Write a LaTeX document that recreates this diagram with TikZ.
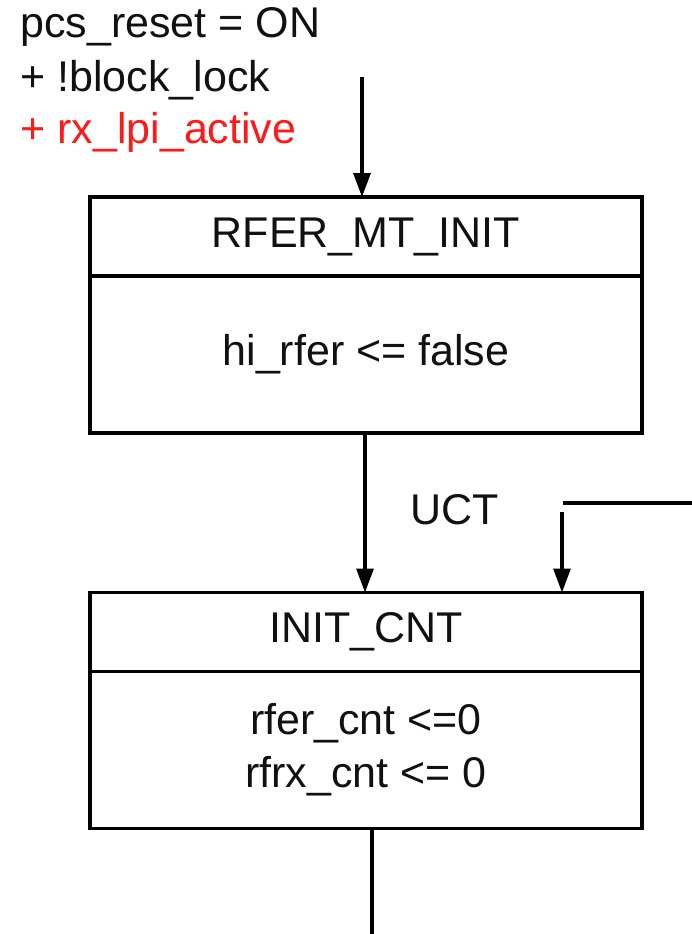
\documentclass[tikz,border=0pt]{standalone}
\usepackage{fontspec}
\setmainfont{Liberation Sans}
\usepackage{tikz}
\usepackage{xcolor}
\usetikzlibrary{arrows.meta,positioning,calc}
\definecolor{smblack}{HTML}{111111}
\definecolor{smred}{HTML}{FF1A1A}
\tikzset{
  stateTitle/.style={draw=black, line width=1.6pt, outer sep=0pt, minimum width=276pt, minimum height=39.5pt, inner sep=0pt, font=\fontsize{21.5}{26.5}\selectfont, text=smblack},
  stateBody/.style={draw=black, line width=1.6pt, outer sep=0pt, minimum width=276pt, minimum height=78.5pt, inner sep=0pt, align=center, font=\fontsize{21.5}{26.5}\selectfont, text=smblack},
  condText/.style={anchor=base west, inner sep=0pt, font=\fontsize{21.5}{26.5}\selectfont, text=smblack},
  stateArrow/.style={-{Triangle[length=12pt,width=8.5pt]}, line width=1.6pt, draw=black},
  stateLine/.style={line width=1.6pt, draw=black}
}

\begin{document}
\begin{tikzpicture}[x=0.5pt,y=-0.5pt]
  \useasboundingbox (0,0) rectangle (692,934);
  % entry condition
  \node[condText] (cond1) at (20,37) {pcs\_reset = ON};
  \node[condText] (cond2) at (20,91) {+ !block\_lock};
  \node[condText, text=smred] (cond3) at (20,143) {+ rx\_lpi\_active};
  \coordinate (entry) at (362,77);
  % states
  \node[stateTitle] (rferT) at (366,236.5) {RFER\_MT\_INIT};
  \node[stateBody, anchor=north] (rferB) at (rferT.south) {hi\_rfer <= false};
  \node[stateTitle] (initT) at (366,632) {INIT\_CNT};
  \node[stateBody, anchor=north] (initB) at (initT.south) {rfer\_cnt <=0\\rfrx\_cnt <= 0};
  \node[font=\fontsize{21.5}{26.5}\selectfont, text=smblack] (uct) at (455,510) {UCT};
  % connectors
  \coordinate (loopIn) at (692,503);
  \coordinate (loopEnd) at (563,503);
  \coordinate (loopTop) at (562,512);
  \coordinate (exit) at (372,934);
  \draw[stateArrow] (entry) -- (entry |- rferT.north);
  \draw[stateArrow] (rferB.south -| 365,0) -- (initT.north -| 365,0);
  \draw[stateLine] (loopIn) -- (loopEnd);
  \draw[stateArrow] (loopTop) -- (loopTop |- initT.north);
  \draw[stateLine] (initB.south -| exit) -- (exit);
\end{tikzpicture}
\end{document}
